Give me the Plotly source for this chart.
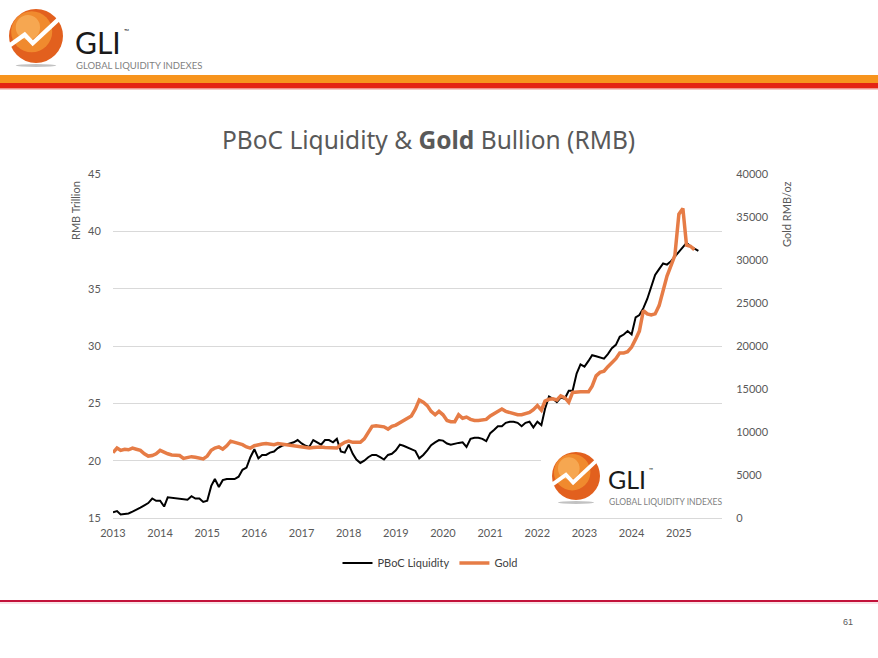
import pandas as pd
import plotly.graph_objects as go

# ---------------- data ----------------
pboc_start = "2013-01-01"
pboc_liquidity = [
    15.5, 15.6, 15.3, 15.35, 15.4, 15.55, 15.7, 15.9, 16.1, 16.3, 16.7, 16.5,
    16.5, 16.0, 16.8, 16.75, 16.7, 16.65, 16.6, 16.6, 16.9, 16.7, 16.7, 16.4,
    16.5, 17.8, 18.4, 17.7, 18.3, 18.4, 18.4, 18.4, 18.6, 19.2, 19.4, 20.3,
    21.0, 20.2, 20.5, 20.5, 20.7, 20.8, 21.1, 21.3, 21.4, 21.5, 21.6, 21.8,
    21.5, 21.3, 21.2, 21.8, 21.6, 21.4, 21.8, 21.8, 21.6, 21.9, 20.8, 20.7,
    21.4, 20.6, 20.1, 19.8, 20.0, 20.3, 20.5, 20.5, 20.3, 20.1, 20.5, 20.6,
    20.9, 21.4, 21.3, 21.15, 21.05, 20.85, 20.2, 20.5, 20.9, 21.35, 21.6, 21.8,
    21.75, 21.5, 21.4, 21.5, 21.55, 21.6, 21.2, 21.9, 22.0, 22.0, 21.9, 21.7,
    22.4, 22.7, 23.0, 23.0, 23.3, 23.4, 23.4, 23.3, 23.0, 23.3, 23.4, 22.9,
    23.4, 23.1, 24.5, 25.6, 25.4, 25.1, 25.5, 25.4, 26.1, 26.1, 27.6, 28.4,
    28.2, 28.7, 29.2, 29.1, 29.0, 28.9, 29.3, 29.8, 30.1, 30.8, 31.0, 31.3,
    31.0, 32.5, 32.7, 33.3, 34.1, 35.2, 36.2, 36.7, 37.2, 37.1, 37.4, 37.8,
    38.2, 38.6, 39.0, 38.7, 38.5, 38.3,
]
gold_rmb = [
    7600, 8133, 7867, 8000, 7933, 8133, 8000, 7867, 7467, 7200, 7267, 7467,
    7867, 7600, 7467, 7333, 7333, 7267, 6933, 7067, 7133, 7067, 6933, 6867,
    7200, 7867, 8133, 8267, 8000, 8400, 8933, 8800, 8667, 8533, 8267, 8133,
    8400, 8533, 8600, 8667, 8600, 8533, 8667, 8600, 8533, 8533, 8400, 8333,
    8267, 8267, 8133, 8200, 8267, 8267, 8200, 8200, 8133, 8133, 8533, 8800,
    8933, 8800, 8800, 8800, 9200, 9867, 10667, 10733, 10667, 10600, 10333, 10667,
    10800, 11067, 11333, 11600, 11867, 12667, 13733, 13467, 13067, 12400, 12000, 12400,
    12000, 11333, 11200, 11200, 12000, 11600, 11733, 11467, 11333, 11333, 11400, 11467,
    11867, 12133, 12400, 12667, 12400, 12267, 12133, 12000, 12000, 12133, 12267, 12600,
    13067, 12533, 13600, 13800, 13867, 13733, 14200, 14000, 13467, 14600, 14667, 14667,
    14667, 14667, 15333, 16533, 16933, 17067, 17600, 18000, 18533, 19200, 19200, 19333,
    19867, 20800, 21733, 24133, 23733, 23600, 23733, 24700, 26667, 28133, 29333, 30533,
    35333, 36000, 31733, 31600, 31200,
]
left_ticks = [15, 20, 25, 30, 35, 40, 45]
right_ticks = [0, 5000, 10000, 15000, 20000, 25000, 30000, 35000, 40000]

pboc_dates = pd.date_range(pboc_start, periods=len(pboc_liquidity), freq="MS")
gold_dates = pd.date_range(pboc_start, periods=len(gold_rmb), freq="MS")

# ---------------- geometry helpers (pixel -> paper) ----------------
W, H = 878, 658
L, R, T, B = 113, 722, 174, 518
PW, PH = R - L, B - T


def px(X):
    return (X - L) / PW


def py(Y):
    return (B - Y) / PH


GREY = "#595959"
ORANGE_LINE = "#E67C46"

fig = go.Figure()
fig.add_trace(go.Scatter(x=pboc_dates, y=pboc_liquidity, name="PBoC Liquidity",
                         mode="lines", line=dict(color="#000000", width=2), yaxis="y"))
fig.add_trace(go.Scatter(x=gold_dates, y=gold_rmb, name="Gold",
                         mode="lines", line=dict(color=ORANGE_LINE, width=3.5), yaxis="y2"))

shapes = []
annotations = []

# header bands
shapes.append(dict(type="rect", xref="paper", yref="paper", x0=px(0), x1=px(W), y0=py(83), y1=py(75),
                   fillcolor="#F7941D", line=dict(width=0), layer="above"))
shapes.append(dict(type="rect", xref="paper", yref="paper", x0=px(0), x1=px(W), y0=py(88.5), y1=py(83),
                   fillcolor="#E42313", line=dict(width=0), layer="above"))
shapes.append(dict(type="line", xref="paper", yref="paper", x0=px(0), x1=px(W), y0=py(89.5), y1=py(89.5),
                   line=dict(color="#F4C9C4", width=1), layer="above"))
# footer line
shapes.append(dict(type="line", xref="paper", yref="paper", x0=px(0), x1=px(W), y0=py(601), y1=py(601),
                   line=dict(color="#C2123A", width=2), layer="above"))
shapes.append(dict(type="line", xref="paper", yref="paper", x0=px(0), x1=px(W), y0=py(603), y1=py(603),
                   line=dict(color="#F3C7CF", width=1), layer="above"))


def logo(cx, cy, r, text_x, gli_bottom, gli_size, sub_size, sub_top):
    # shadow
    shapes.append(dict(type="circle", xref="paper", yref="paper",
                       x0=px(cx - r * 0.75), x1=px(cx + r * 0.75),
                       y0=py(cy + r + 4), y1=py(cy + r + 1),
                       fillcolor="#9A9A9A", line=dict(width=0), layer="above", opacity=0.6))
    # circle body
    shapes.append(dict(type="circle", xref="paper", yref="paper",
                       x0=px(cx - r), x1=px(cx + r), y0=py(cy + r), y1=py(cy - r),
                       fillcolor="#E2601E", line=dict(width=0), layer="above"))
    shapes.append(dict(type="circle", xref="paper", yref="paper",
                       x0=px(cx - r * 0.92), x1=px(cx + r * 0.6), y0=py(cy + r * 0.6), y1=py(cy - r * 0.92),
                       fillcolor="#F08A2E", line=dict(width=0), layer="above"))
    shapes.append(dict(type="circle", xref="paper", yref="paper",
                       x0=px(cx - r * 0.75), x1=px(cx + r * 0.15), y0=py(cy + r * 0.15), y1=py(cy - r * 0.78),
                       fillcolor="#F7AE5A", line=dict(width=0), layer="above", opacity=0.8))
    # white trend zigzag
    pts = [(-0.98, 0.35), (-0.42, -0.05), (-0.12, 0.27), (0.9, -0.68)]
    path = "M " + " L ".join(f"{px(cx + a * r)},{py(cy + b * r)}" for a, b in pts)
    shapes.append(dict(type="path", xref="paper", yref="paper", path=path,
                       line=dict(color="white", width=max(2, r * 0.16)), layer="above"))
    annotations.append(dict(xref="paper", yref="paper", x=px(text_x), y=py(gli_bottom),
                            text="GLI", showarrow=False, xanchor="left", yanchor="bottom",
                            font=dict(family="Lato", size=gli_size, color="#1A1A1A")))
    annotations.append(dict(xref="paper", yref="paper", x=px(text_x + gli_size * 1.62),
                            y=py(gli_bottom - gli_size * 1.05),
                            text="™", showarrow=False, xanchor="left", yanchor="middle",
                            font=dict(family="Lato", size=max(5, gli_size * 0.22), color="#1A1A1A")))
    annotations.append(dict(xref="paper", yref="paper", x=px(text_x + 1), y=py(sub_top),
                            text="GLOBAL LIQUIDITY INDEXES", showarrow=False, xanchor="left", yanchor="top",
                            font=dict(family="Lato", size=sub_size, color="#7F7F7F")))


# header logo
logo(36, 36, 27, 73, 62, 30, 9.5, 58)

# watermark logo inside chart (white backing hides gridline)
shapes.append(dict(type="rect", xref="paper", yref="paper", x0=px(541), x1=px(724), y0=py(508), y1=py(447),
                   fillcolor="white", line=dict(width=0), layer="above"))
logo(576, 476, 24, 606, 496, 25, 8.5, 495)

# title
annotations.append(dict(xref="paper", yref="paper", x=px(428), y=py(139),
                        text="PBoC Liquidity & <b>Gold</b> Bullion (RMB)", showarrow=False,
                        xanchor="center", yanchor="middle",
                        font=dict(family="Noto Sans", size=24.5, color=GREY)))
# axis titles
annotations.append(dict(xref="paper", yref="paper", x=px(75), y=py(211), text="RMB Trillion",
                        textangle=-90, showarrow=False, xanchor="center", yanchor="middle",
                        font=dict(family="Lato", size=11, color=GREY)))
annotations.append(dict(xref="paper", yref="paper", x=px(786), y=py(214), text="Gold RMB/oz",
                        textangle=-90, showarrow=False, xanchor="center", yanchor="middle",
                        font=dict(family="Lato", size=11, color=GREY)))
# page number
annotations.append(dict(xref="paper", yref="paper", x=px(848), y=py(622), text="61",
                        showarrow=False, xanchor="center", yanchor="middle",
                        font=dict(family="Liberation Sans", size=9, color=GREY)))

fig.update_layout(
    width=W, height=H,
    margin=dict(l=L, r=W - R, t=T, b=H - B, pad=0),
    paper_bgcolor="white", plot_bgcolor="white",
    font=dict(family="Lato", size=11, color=GREY),
    showlegend=True,
    legend=dict(orientation="h", x=px(430), y=py(563), xanchor="center", yanchor="middle",
                font=dict(family="Lato", size=11, color="#404040"), bgcolor="rgba(0,0,0,0)"),
    xaxis=dict(type="date", range=["2013-01-01", "2025-12-01"], dtick="M12", tick0="2013-01-01",
               tickformat="%Y", showgrid=False, showline=True, linecolor="#D9D9D9", linewidth=1,
               ticks="outside", ticklen=5, tickcolor="rgba(0,0,0,0)",
               tickfont=dict(family="Lato", size=11, color=GREY), zeroline=False),
    yaxis=dict(range=[15, 45], tickvals=left_ticks, showgrid=True, gridcolor="#D9D9D9", gridwidth=1,
               ticks="outside", ticklen=9, tickcolor="rgba(0,0,0,0)", zeroline=False,
               tickfont=dict(family="Lato", size=11, color=GREY)),
    yaxis2=dict(range=[0, 40000], tickvals=right_ticks, tickformat="d", overlaying="y", side="right",
                showgrid=False, ticks="outside", ticklen=11, tickcolor="rgba(0,0,0,0)", zeroline=False,
                tickfont=dict(family="Lato", size=11, color=GREY)),
    shapes=shapes,
    annotations=annotations,
)

fig.write_html("out.html")
